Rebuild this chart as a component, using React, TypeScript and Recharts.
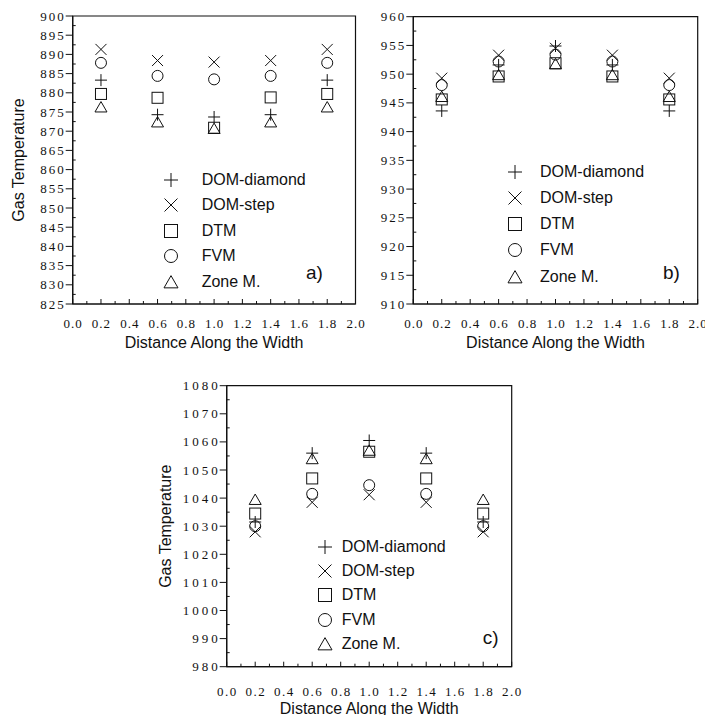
import React from 'react';
import { ScatterChart, Scatter, XAxis, YAxis, ReferenceArea, Legend, Label } from 'recharts';

/* ── Data ─────────────────────────────────────────────────────────────────── */

const positions = [0.2, 0.6, 1.0, 1.4, 1.8];

const xMajorTicks = [0, 0.2, 0.4, 0.6, 0.8, 1.0, 1.2, 1.4, 1.6, 1.8, 2.0];
const xMinorTicks = [0.1, 0.3, 0.5, 0.7, 0.9, 1.1, 1.3, 1.5, 1.7, 1.9];

// a)
const domDiamondA = [883.3, 874.3, 873.7, 874.3, 883.3];
const domStepA = [891.3, 888.4, 888.0, 888.4, 891.3];
const dtmA = [879.7, 878.7, 870.9, 878.8, 879.7];
const fvmA = [887.8, 884.4, 883.5, 884.4, 887.8];
const zoneA = [876.3, 872.4, 870.7, 872.4, 876.3];
const yTicksA = [825, 830, 835, 840, 845, 850, 855, 860, 865, 870, 875, 880, 885, 890, 895, 900];

// b)
const domDiamondB = [943.6, 951.6, 954.9, 951.6, 943.6];
const domStepB = [949.3, 953.3, 954.5, 953.3, 949.3];
const dtmB = [945.6, 949.6, 951.9, 949.6, 945.6];
const fvmB = [948.1, 952.2, 953.4, 952.2, 948.1];
const zoneB = [946.1, 949.9, 951.8, 949.9, 946.1];
const yTicksB = [910, 915, 920, 925, 930, 935, 940, 945, 950, 955, 960];

// c)
const domDiamondC = [1031.5, 1056.0, 1060.5, 1056.0, 1031.5];
const domStepC = [1028.0, 1038.5, 1041.2, 1038.5, 1028.0];
const dtmC = [1034.5, 1047.0, 1056.5, 1047.0, 1034.5];
const fvmC = [1030.0, 1041.5, 1044.6, 1041.5, 1030.0];
const zoneC = [1039.5, 1054.0, 1057.0, 1054.0, 1039.5];
const yTicksC = [980, 990, 1000, 1010, 1020, 1030, 1040, 1050, 1060, 1070, 1080];

const seriesNames = ['DOM-diamond', 'DOM-step', 'DTM', 'FVM', 'Zone M.'];
const seriesKinds = ['plus', 'x', 'square', 'circle', 'triangle'];

/* ── Markers ──────────────────────────────────────────────────────────────── */

const INK = '#111';
const SANS = '"Liberation Sans", Arial, sans-serif';
const SERIF = '"Liberation Serif", "Times New Roman", serif';

function Marker({ cx, cy, kind, s = 5.5 }: { cx: number; cy: number; kind: string; s?: number }) {
  const common = { stroke: INK, strokeWidth: 1, fill: 'none' };
  if (kind === 'plus') {
    return (
      <g {...common}>
        <line x1={cx - s - 0.5} y1={cy} x2={cx + s + 0.5} y2={cy} />
        <line x1={cx} y1={cy - s - 0.5} x2={cx} y2={cy + s + 0.5} />
      </g>
    );
  }
  if (kind === 'x') {
    return (
      <g {...common}>
        <line x1={cx - s} y1={cy - s} x2={cx + s} y2={cy + s} />
        <line x1={cx - s} y1={cy + s} x2={cx + s} y2={cy - s} />
      </g>
    );
  }
  if (kind === 'square') {
    return <rect {...common} x={cx - s} y={cy - s} width={s * 2} height={s * 2} />;
  }
  if (kind === 'circle') {
    return <circle {...common} cx={cx} cy={cy} r={s} />;
  }
  const h = s * 1.8;
  return (
    <polygon
      {...common}
      points={`${cx},${cy - h / 2 - 0.5} ${cx + s + 0.5},${cy + h / 2} ${cx - s - 0.5},${cy + h / 2}`}
    />
  );
}

/* ── Ticks ────────────────────────────────────────────────────────────────── */

const TICK_SIZE = 6;
const TICK_MARGIN = 3;

const near = (list: number[], v: number) => list.some((t) => Math.abs(t - v) < 1e-6);

function YTick(props: any) {
  const { x, y, payload, majors, spacing } = props;
  const axisX = x + TICK_SIZE + TICK_MARGIN;
  const v = payload.value;
  if (!near(majors, v)) {
    return <line x1={axisX} y1={y} x2={axisX + 3} y2={y} stroke={INK} strokeWidth={1} />;
  }
  return (
    <g>
      <line x1={axisX - 7} y1={y} x2={axisX} y2={y} stroke={INK} strokeWidth={1} />
      <text
        x={axisX - 9 + spacing}
        y={y}
        dy="0.35em"
        textAnchor="end"
        fontFamily={SERIF}
        fontSize={13}
        letterSpacing={spacing}
        fill={INK}
      >
        {v}
      </text>
    </g>
  );
}

function XTick(props: any) {
  const { x, y, payload, gap, spacing } = props;
  const axisY = y - TICK_SIZE - TICK_MARGIN;
  const v = payload.value;
  if (!near(xMajorTicks, v)) {
    return <line x1={x} y1={axisY} x2={x} y2={axisY - 3} stroke={INK} strokeWidth={1} />;
  }
  return (
    <g>
      <line x1={x} y1={axisY} x2={x} y2={axisY - 5} stroke={INK} strokeWidth={1} />
      <text
        x={x + spacing / 2}
        y={axisY + gap}
        dy="0.35em"
        textAnchor="middle"
        fontFamily={SERIF}
        fontSize={13}
        letterSpacing={spacing}
        fill={INK}
      >
        {v.toFixed(1)}
      </text>
    </g>
  );
}

/* ── Panel ────────────────────────────────────────────────────────────────── */

interface PanelProps {
  left: number;
  top: number;
  width: number;
  height: number;
  margin: { top: number; right: number; bottom: number; left: number };
  yAxisWidth: number;
  xAxisHeight: number;
  yDomain: [number, number];
  yMajors: number[];
  series: number[][];
  letter: string;
  yLabelOffset?: number;
  xLabelOffset: number;
  xTickGap: number;
  ySpacing: number;
  xSpacing: number;
  legend: { symbolX: number; textX: number; firstRow: number; rowGap: number; letterX: number; letterY: number };
}

function Panel(p: PanelProps) {
  const yMinors = p.yMajors.slice(1).map((t, i) => (t + p.yMajors[i]) / 2);
  const yTicks = [...p.yMajors, ...yMinors].sort((a, b) => a - b);
  const xTicks = [...xMajorTicks, ...xMinorTicks].sort((a, b) => a - b);
  const lg = p.legend;

  const renderLegend = () => (
    <div style={{ position: 'relative', width: p.width, height: p.height }}>
      {seriesNames.map((name, i) => {
        const rowY = lg.firstRow + i * lg.rowGap;
        return (
          <React.Fragment key={name}>
            <svg
              width={18}
              height={18}
              style={{ position: 'absolute', left: lg.symbolX - 9, top: rowY - 9, overflow: 'visible' }}
            >
              <Marker cx={9} cy={9} kind={seriesKinds[i]} s={6.5} />
            </svg>
            <span
              style={{
                position: 'absolute',
                left: lg.textX,
                top: rowY - 10,
                lineHeight: '20px',
                fontFamily: SANS,
                fontSize: 16,
                color: INK,
                whiteSpace: 'nowrap',
              }}
            >
              {name}
            </span>
          </React.Fragment>
        );
      })}
      <span
        style={{
          position: 'absolute',
          left: lg.letterX,
          top: lg.letterY - 11,
          lineHeight: '22px',
          fontFamily: SANS,
          fontSize: 19,
          color: INK,
        }}
      >
        {p.letter}
      </span>
    </div>
  );

  return (
    <div style={{ position: 'absolute', left: p.left, top: p.top }}>
      <ScatterChart width={p.width} height={p.height} margin={p.margin}>
        <XAxis
          type="number"
          dataKey="x"
          domain={[0, 2]}
          ticks={xTicks}
          interval={0}
          height={p.xAxisHeight}
          tickSize={TICK_SIZE}
          tickMargin={TICK_MARGIN}
          tickLine={false}
          axisLine={{ stroke: INK, strokeWidth: 1.2 }}
          tick={(tp: any) => <XTick {...tp} gap={p.xTickGap} spacing={p.xSpacing} />}
        >
          <Label
            value="Distance Along the Width"
            position="insideBottom"
            offset={p.xLabelOffset}
            fill={INK}
            style={{ fontFamily: SANS, fontSize: 16, fill: INK }}
          />
        </XAxis>
        <YAxis
          type="number"
          dataKey="y"
          domain={p.yDomain}
          ticks={yTicks}
          interval={0}
          width={p.yAxisWidth}
          tickSize={TICK_SIZE}
          tickMargin={TICK_MARGIN}
          tickLine={false}
          axisLine={{ stroke: INK, strokeWidth: 1.2 }}
          tick={(tp: any) => <YTick {...tp} majors={p.yMajors} spacing={p.ySpacing} />}
          allowDataOverflow
        >
          {p.yLabelOffset !== undefined && (
            <Label
              value="Gas Temperature"
              angle={-90}
              position="insideLeft"
              offset={p.yLabelOffset}
              fill={INK}
              style={{ fontFamily: SANS, fontSize: 16, fill: INK, textAnchor: 'middle' }}
            />
          )}
        </YAxis>
        <ReferenceArea
          x1={0}
          x2={2}
          y1={p.yDomain[0]}
          y2={p.yDomain[1]}
          fill="none"
          stroke={INK}
          strokeWidth={1.2}
          ifOverflow="visible"
        />
        {p.series.map((values, i) => (
          <Scatter
            key={seriesNames[i]}
            name={seriesNames[i]}
            data={positions.map((x, j) => ({ x, y: values[j] }))}
            isAnimationActive={false}
            shape={(sp: any) => <Marker cx={sp.cx} cy={sp.cy} kind={seriesKinds[i]} />}
          />
        ))}
        <Legend
          layout="vertical"
          align="center"
          verticalAlign="middle"
          content={renderLegend}
          wrapperStyle={{ position: 'absolute', left: 0, top: 0, width: p.width, height: p.height, pointerEvents: 'none' }}
        />
      </ScatterChart>
    </div>
  );
}

/* ── App ──────────────────────────────────────────────────────────────────── */

export default function App() {
  return (
    <div style={{ position: 'absolute', left: 0, top: 0, width: 705, height: 715, background: '#fff', overflow: 'hidden' }}>
      <Panel
        left={0}
        top={0}
        width={372}
        height={360}
        margin={{ top: 16, right: 16.5, bottom: 0, left: 0 }}
        yAxisWidth={72.7}
        xAxisHeight={56}
        yDomain={[825, 900]}
        yMajors={yTicksA}
        series={[domDiamondA, domStepA, dtmA, fvmA, zoneA]}
        letter="a)"
        yLabelOffset={18}
        xLabelOffset={12.5}
        xTickGap={19}
        ySpacing={2}
        xSpacing={1}
        legend={{ symbolX: 170.7, textX: 201.7, firstRow: 180, rowGap: 25.4, letterX: 306, letterY: 273 }}
      />
      <Panel
        left={360}
        top={0}
        width={357}
        height={360}
        margin={{ top: 16.7, right: 19.3, bottom: 0, left: 0 }}
        yAxisWidth={53.3}
        xAxisHeight={56}
        yDomain={[910, 960]}
        yMajors={yTicksB}
        series={[domDiamondB, domStepB, dtmB, fvmB, zoneB]}
        letter="b)"
        xLabelOffset={12.5}
        xTickGap={19}
        ySpacing={2}
        xSpacing={1}
        legend={{ symbolX: 155, textX: 180, firstRow: 171.7, rowGap: 26.2, letterX: 303, letterY: 273 }}
      />
      <Panel
        left={140}
        top={370}
        width={395}
        height={345}
        margin={{ top: 15.7, right: 23.3, bottom: 0, left: 0 }}
        yAxisWidth={86.7}
        xAxisHeight={48.3}
        yDomain={[980, 1080]}
        yMajors={yTicksC}
        series={[domDiamondC, domStepC, dtmC, fvmC, zoneC]}
        letter="c)"
        yLabelOffset={25}
        xLabelOffset={1}
        xTickGap={25}
        ySpacing={3}
        xSpacing={1.5}
        legend={{ symbolX: 185, textX: 201.7, firstRow: 176.7, rowGap: 24.3, letterX: 342.7, letterY: 268 }}
      />
    </div>
  );
}
